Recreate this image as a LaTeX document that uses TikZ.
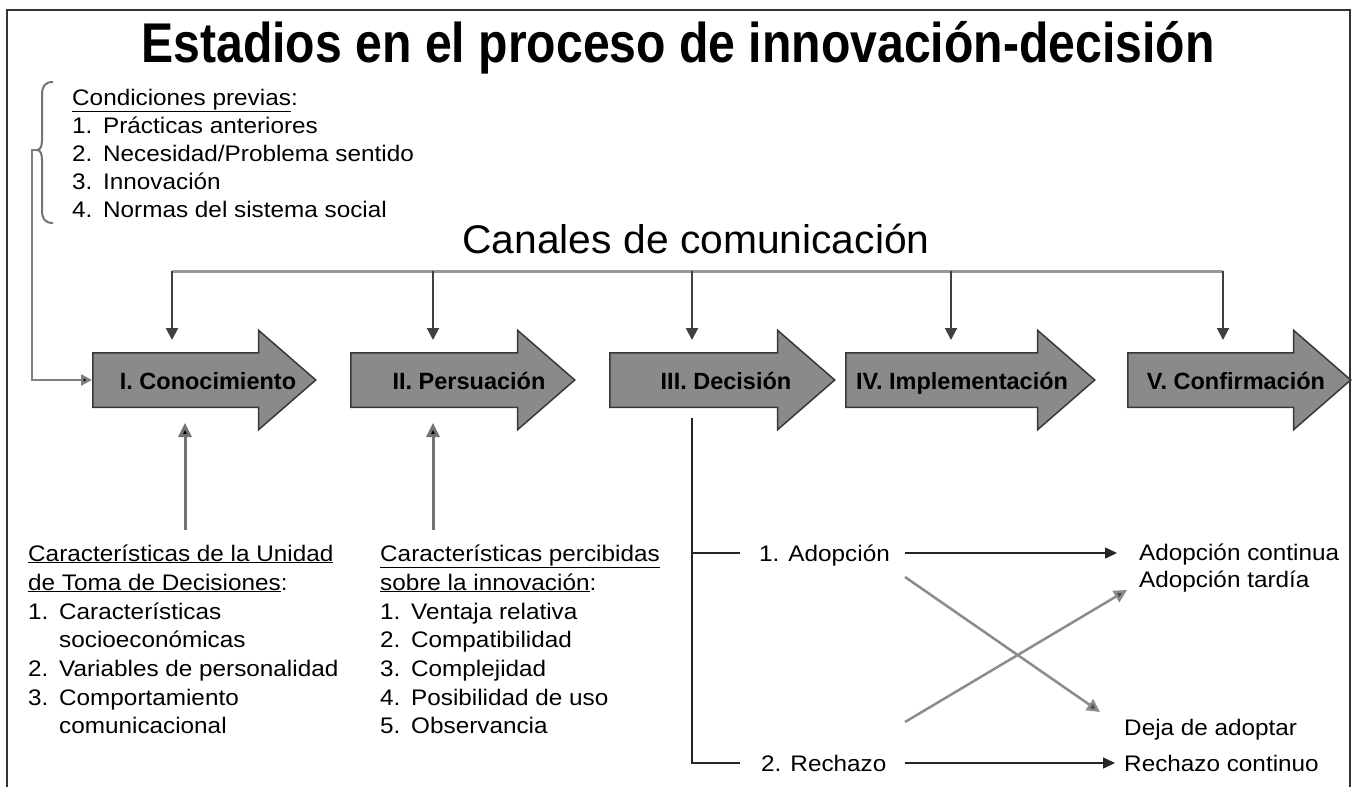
\documentclass[tikz,border=0pt]{standalone}
\usepackage{fontspec}
\setmainfont{Liberation Sans}
\newfontfamily\bodyf[FakeStretch=1.08]{Liberation Sans}
\newfontfamily\titlef[FakeStretch=0.86]{Liberation Sans}
\newfontfamily\canf[FakeStretch=1.02]{Liberation Sans}
\usetikzlibrary{shapes.arrows,arrows.meta}
\newcommand{\itm}[1]{\makebox[31pt][l]{#1}}
\begin{document}
\begin{tikzpicture}[x=1pt,y=-1pt,
  txt/.style={inner sep=0pt, anchor=base west, font=\bodyf\fontsize{22.5}{27}\selectfont},
  stage/.style={single arrow, draw=black!78, fill=black!46, line width=1.5pt,
    inner xsep=0pt, inner ysep=26.5pt, single arrow head extend=22.5pt,
    single arrow tip angle=82, anchor=tail},
  lbl/.style={font=\fontsize{23.5}{28}\selectfont\bfseries, inner sep=0pt, anchor=base},
  frame/.style={draw=black!80, line width=1.5pt},
  bus/.style={draw=black!40, line width=3pt},
  drop/.style={draw=black!75, line width=2pt, -{Triangle[width=12pt,length=12pt]}},
  uparr/.style={draw=black!55, line width=3pt, -{Triangle[width=13pt,length=14pt,fill=black]}},
  conn/.style={draw=black!50, line width=2.5pt, -{Triangle[width=11pt,length=11pt,fill=black]}},
  brace/.style={draw=black!55, line width=2pt},
  dec/.style={draw=black!85, line width=2pt},
  harr/.style={draw=black!85, line width=1.5pt, -{Triangle[width=11pt,length=12pt]}},
  diag/.style={draw=black!45, line width=2.5pt, -{Triangle[width=13pt,length=13pt,fill=black!70]}}
]
\useasboundingbox (0,0) rectangle (1352,787);
\fill[white] (0,0) rectangle (1352,787);
% frame
\draw[frame] (7,787) -- (7,10) -- (1350,10) -- (1350,787);
% title
\node[font=\titlef\bfseries\fontsize{56}{60}\selectfont, inner sep=0pt, anchor=base] (title) at (678,62) {Estadios en el proceso de innovación-decisión};
% condiciones previas
\node[txt] (cp0) at (72,105) {\underline{Condiciones previas}:};
\node[txt] (cp1) at (72,133) {\itm{1.}Prácticas anteriores};
\node[txt] (cp2) at (72,161) {\itm{2.}Necesidad/Problema sentido};
\node[txt] (cp3) at (72,189) {\itm{3.}Innovación};
\node[txt] (cp4) at (72,217) {\itm{4.}Normas del sistema social};
% brace
\draw[brace] (53,82) .. controls (45,82) and (42,86) .. (42,95) -- (42,140)
  .. controls (42,147) and (40,150) .. (37,150)
  .. controls (40,150) and (42,153) .. (42,160) -- (42,210)
  .. controls (42,219) and (45,223) .. (53,223);
\coordinate (br) at (37,150);
% canales
\node[font=\canf\fontsize{40}{44}\selectfont, inner sep=0pt, anchor=base] (canal) at (696,253) {Canales de comunicación};
% stage arrows
\node[stage, minimum height=223pt] (a1) at (92,380) {};
\node[stage, minimum height=224pt] (a2) at (350,380) {};
\node[stage, minimum height=225pt] (a3) at (609,380) {};
\node[stage, minimum height=249pt] (a4) at (845,380) {};
\node[stage, minimum height=223pt] (a5) at (1127,380) {};
\node[lbl] (t1) at (208,389) {I. Conocimiento};
\node[lbl] (t2) at (469,389) {II. Persuación};
\node[lbl] (t3) at (726,389) {III. Decisión};
\node[lbl] (t4) at (962,389) {IV. Implementación};
\node[lbl] (t5) at (1236,389) {V. Confirmación};
% bus and drops
\coordinate (b1) at (172,271);
\coordinate (b2) at (433,271);
\coordinate (b3) at (692,271);
\coordinate (b4) at (951,271);
\coordinate (b5) at (1223,271);
\draw[bus] (b1) -- (b5);
\coordinate (d1) at (172,340);
\coordinate (d2) at (433,340);
\coordinate (d3) at (692,340);
\coordinate (d4) at (951,340);
\coordinate (d5) at (1223,340);
\foreach \i in {1,...,5} { \draw[drop] (b\i) -- (d\i); }
% connector from brace
\draw[conn] (br) -- ++(-5,0) |- (a1.tail);
% up arrows
\coordinate (u1) at (185,530);
\coordinate (v1) at (185,423);
\coordinate (u2) at (433,530);
\coordinate (v2) at (433,423);
\draw[uparr] (u1) -- (v1);
\draw[uparr] (u2) -- (v2);
% bottom left lists
\node[txt] (uk0) at (28,561) {\underline{Características de la Unidad}};
\node[txt] (uk1) at (28,590) {\underline{de Toma de Decisiones}:};
\node[txt] (uk2) at (28,619) {\itm{1.}Características};
\node[txt] (uk3) at (59,647) {socioeconómicas};
\node[txt] (uk4) at (28,676) {\itm{2.}Variables de personalidad};
\node[txt] (uk5) at (28,705) {\itm{3.}Comportamiento};
\node[txt] (uk6) at (59,733) {comunicacional};
\node[txt] (pk0) at (380,561) {\underline{Características percibidas}};
\node[txt] (pk1) at (380,590) {\underline{sobre la innovación}:};
\node[txt] (pk2) at (380,619) {\itm{1.}Ventaja relativa};
\node[txt] (pk3) at (380,647) {\itm{2.}Compatibilidad};
\node[txt] (pk4) at (380,676) {\itm{3.}Complejidad};
\node[txt] (pk5) at (380,705) {\itm{4.}Posibilidad de uso};
\node[txt] (pk6) at (380,733) {\itm{5.}Observancia};
% decision branches
\coordinate (dtop) at (692,418);
\coordinate (dmid) at (692,553);
\coordinate (dbot) at (692,763);
\coordinate (ea) at (740,553);
\coordinate (eb) at (740,763);
\draw[dec] (dtop) -- (dbot) -- (eb);
\draw[dec] (dmid) -- (ea);
\node[txt] (ad) at (759,561) {1. Adopción};
\node[txt] (re) at (761,771) {2. Rechazo};
\node[txt] (ac) at (1139,560) {Adopción continua};
\node[txt] (at) at (1139,587) {Adopción tardía};
\node[txt] (dj) at (1124,735) {Deja de adoptar};
\node[txt] (rc) at (1124,771) {Rechazo continuo};
\coordinate (h1s) at (905,553);
\coordinate (h1e) at (1117,553);
\coordinate (h2s) at (905,763);
\coordinate (h2e) at (1115,763);
\draw[harr] (h1s) -- (h1e);
\draw[harr] (h2s) -- (h2e);
\coordinate (x1s) at (905,577);
\coordinate (x1e) at (1100,712);
\coordinate (x2s) at (905,722);
\coordinate (x2e) at (1127,590);
\draw[diag] (x1s) -- (x1e);
\draw[diag] (x2s) -- (x2e);
\end{tikzpicture}
\end{document}
